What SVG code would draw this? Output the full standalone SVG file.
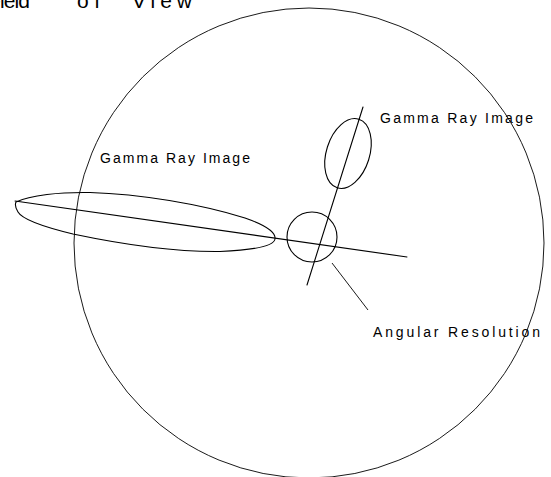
<svg xmlns="http://www.w3.org/2000/svg" width="551" height="477" viewBox="0 0 551 477">
<style>
  .ln { fill: none; stroke: #000; stroke-width: 1.1; stroke-linecap: round; }
  .thin { fill: none; stroke: #000; stroke-width: 0.9; }
  .lbl { font-family: "Liberation Sans", Arial, sans-serif; font-size: 14px; fill: #000; }
  .ttl { font-family: "Liberation Sans", Arial, sans-serif; font-size: 21px; fill: #000; }
</style>
<rect width="551" height="477" fill="#fff"/>
<g id="field-of-view">
  <circle class="thin" cx="309" cy="243" r="235"/>
  <text class="ttl" x="-12" y="8" textLength="42" lengthAdjust="spacing">Field</text>
  <text class="ttl" x="77" y="8" textLength="23" lengthAdjust="spacing">of</text>
  <text class="ttl" x="132" y="8" textLength="60" lengthAdjust="spacing">View</text>
</g>
<g id="gamma-image-left">
  <path class="ln" d="M16,202 C30,195 60,192 90,192.5 C140,194 200,204 245,218 C265,225 276,232 275,239 C274,246 255,250 220,251.5 C180,252 130,246 73,234 C40,226 22,219 18,212 C15,207 15,204 16,202 Z"/>
  <text class="lbl" x="100" y="163" textLength="150" lengthAdjust="spacing">Gamma Ray Image</text>
</g>
<g id="gamma-image-right">
  <ellipse class="ln" cx="348" cy="153.5" rx="21.6" ry="36" transform="rotate(17.5 348 153.5)"/>
  <text class="lbl" x="380" y="123" textLength="153" lengthAdjust="spacing">Gamma Ray Image</text>
</g>
<g id="angular-resolution">
  <circle class="ln" cx="312" cy="237" r="25"/>
  <text class="lbl" x="373" y="337" textLength="167" lengthAdjust="spacing">Angular Resolution</text>
</g>
<g id="connectors">
  <line class="ln" x1="15" y1="201" x2="407" y2="257"/>
  <line class="ln" x1="307" y1="285" x2="363" y2="107"/>
  <line class="thin" x1="332" y1="263" x2="368" y2="310"/>
</g>
</svg>
